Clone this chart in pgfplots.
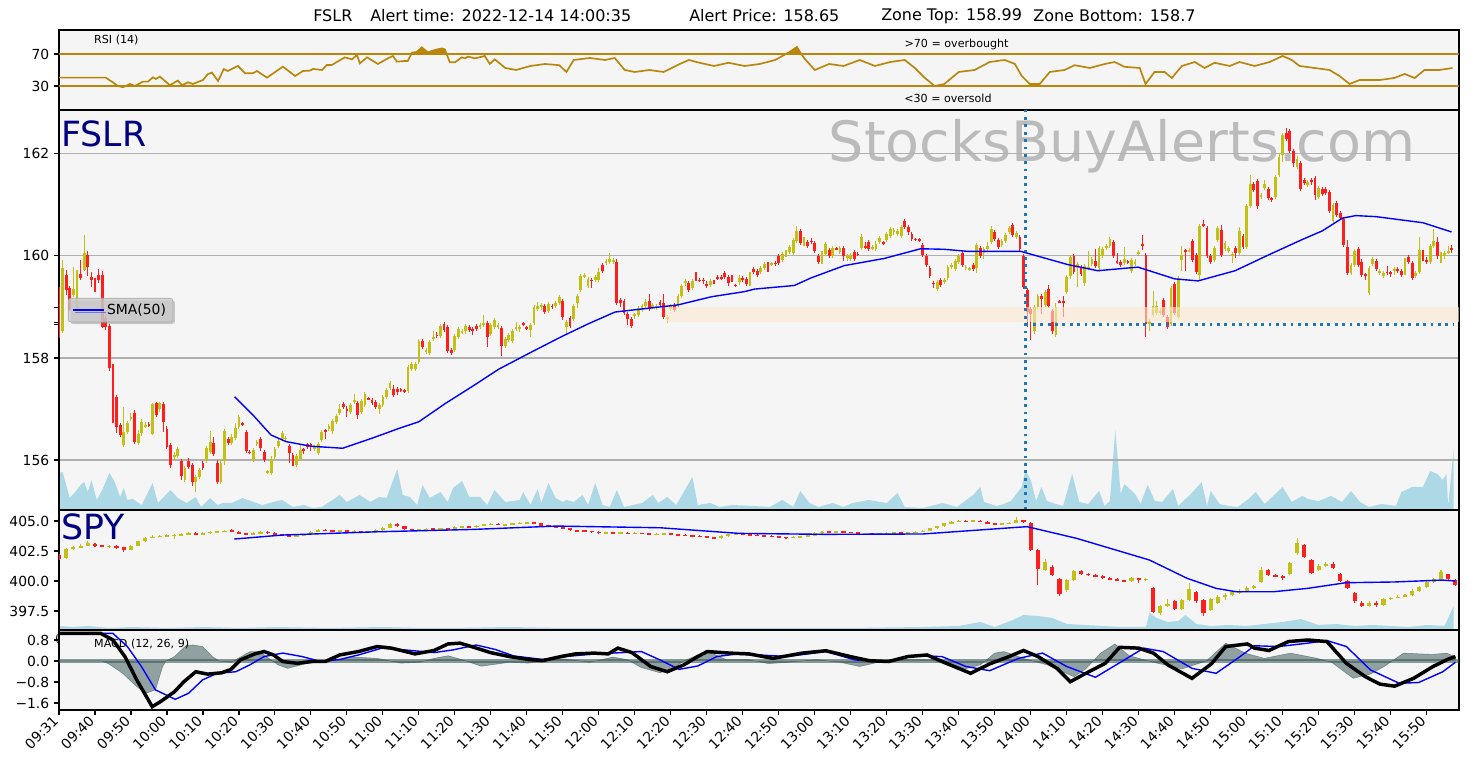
\documentclass[border=0pt]{standalone}
\usepackage{pgfplots}
\pgfplotsset{compat=1.18}
\usepackage{pgfplotstable}
\usepackage{fontspec}
\setmainfont{DejaVu Sans}
\usetikzlibrary{shadows}
\definecolor{bgc}{HTML}{F5F5F5}
\definecolor{upc}{HTML}{C3C014}
\definecolor{dnc}{HTML}{FF1E1E}
\definecolor{rsic}{HTML}{B8860B}
\definecolor{volc}{HTML}{ADD8E6}
\definecolor{zonec}{HTML}{FBE9D1}
\definecolor{dotc}{HTML}{1F77B4}
\definecolor{gridc}{HTML}{B0B0B0}
\definecolor{labc}{HTML}{000080}
\definecolor{wmc}{HTML}{BBBBBB}
\definecolor{histc}{HTML}{2F4F4F}

\pgfplotsset{
  upf/.style={restrict expr to domain={\thisrow{c}-\thisrow{o}}{0:100}},
  dnf/.style={restrict expr to domain={\thisrow{c}-\thisrow{o}}{-100:-0.0001}},
  smaleg/.style={legend image code/.code={\draw[##1] (0pt,0pt) -- (22pt,0pt);}},
  panel/.style={scale only axis, width=1008pt, anchor=south west, xmin=0, xmax=389,
    axis line style={black, line width=0.8pt},
    tick style={black, line width=0.8pt},
    major tick length=3.5pt, tick align=outside,
    xtick pos=bottom, ytick pos=left,
    tick label style={font=\fontsize{10}{12}\selectfont}},
  bgpanel/.style={scale only axis, width=1008pt, anchor=south west, xmin=0, xmax=389,
    axis line style={draw=none}, xtick=\empty, ytick=\empty,
    axis background/.style={fill=bgc}},
}

\newcommand{\candles}[4]{%
\addplot[forget plot, draw=none, mark=none, upf, error bars/.cd, y dir=both, y explicit, error mark=none, error bar style={draw=upc, solid, line width=#3}] table[x=t, y expr={(\thisrow{h}+\thisrow{l})/2}, y error expr={(\thisrow{h}-\thisrow{l})/2}] {#1};
\addplot[forget plot, draw=none, mark=none, dnf, error bars/.cd, y dir=both, y explicit, error mark=none, error bar style={draw=dnc, solid, line width=#3}] table[x=t, y expr={(\thisrow{h}+\thisrow{l})/2}, y error expr={(\thisrow{h}-\thisrow{l})/2}] {#1};
\addplot[forget plot, draw=none, mark=none, upf, error bars/.cd, y dir=both, y explicit, error mark=none, error bar style={draw=upc, solid, line width=#2}] table[x=t, y expr={(\thisrow{o}+\thisrow{c})/2}, y error expr={max(abs(\thisrow{c}-\thisrow{o})/2,#4)}] {#1};
\addplot[forget plot, draw=none, mark=none, dnf, error bars/.cd, y dir=both, y explicit, error mark=none, error bar style={draw=dnc, solid, line width=#2}] table[x=t, y expr={(\thisrow{o}+\thisrow{c})/2}, y error expr={max(abs(\thisrow{c}-\thisrow{o})/2,#4)}] {#1};
}

\pgfplotstableread{
t o h l c
0 159.33 159.40 158.40 158.48
1 158.52 159.92 158.48 159.76
2 159.63 159.72 159.23 159.33
3 159.37 159.42 158.92 158.97
4 159.24 159.79 159.20 159.35
5 159.35 159.72 158.94 159.61
6 159.65 159.92 159.52 159.56
7 159.73 160.41 159.70 160.05
8 160.02 160.09 159.60 159.79
9 159.58 159.69 159.40 159.53
10 159.50 159.56 159.30 159.49
11 159.63 159.74 159.46 159.53
12 159.63 159.70 158.58 158.61
13 158.78 158.82 158.55 158.61
14 158.63 158.66 157.75 157.80
15 157.83 157.88 156.72 157.27
16 157.24 157.28 156.52 156.65
17 156.68 156.72 156.45 156.49
18 156.29 157.04 156.26 156.55
19 156.55 156.76 156.50 156.72
20 156.80 156.92 156.76 156.85
21 156.93 156.98 156.32 156.36
22 156.33 156.58 156.30 156.52
23 156.52 156.80 156.48 156.74
24 156.66 156.74 156.62 156.69
25 156.71 156.75 156.64 156.68
26 156.52 157.12 156.48 157.09
27 157.11 157.14 156.84 156.88
28 156.99 157.14 156.95 157.11
29 157.10 157.13 156.54 156.74
30 156.61 156.66 156.22 156.26
31 156.29 156.34 155.85 155.90
32 156.05 156.15 156.00 156.10
33 156.08 156.25 156.04 156.21
34 155.99 156.03 155.60 155.69
35 155.61 155.88 155.57 155.84
36 155.99 156.03 155.82 155.86
37 155.90 155.94 155.50 155.57
38 155.57 155.70 155.38 155.67
39 155.67 155.84 155.63 155.80
40 155.95 155.99 155.80 155.84
41 155.99 156.27 155.95 156.23
42 156.16 156.56 156.12 156.35
43 156.33 156.45 156.07 156.11
44 155.95 156.00 155.53 155.57
45 155.57 156.00 155.53 155.95
46 155.98 156.60 155.90 156.57
47 156.42 156.46 156.29 156.33
48 156.33 156.50 156.29 156.46
49 156.43 156.72 156.39 156.62
50 156.65 156.88 156.61 156.84
51 156.71 156.75 156.66 156.70
52 156.55 156.59 156.14 156.18
53 156.16 156.19 156.12 156.15
54 156.00 156.23 155.96 156.19
55 156.31 156.40 156.27 156.36
56 156.42 156.46 156.18 156.23
57 156.15 156.19 155.97 156.01
58 155.76 155.81 155.72 155.77
59 155.74 156.08 155.70 156.02
60 156.05 156.25 156.01 156.21
61 156.28 156.42 156.24 156.38
62 156.42 156.56 156.38 156.52
63 156.41 156.48 156.37 156.44
64 156.28 156.32 155.95 156.13
65 156.10 156.14 155.88 155.89
66 155.90 156.12 155.86 156.08
67 156.03 156.32 155.99 156.20
68 156.20 156.23 156.12 156.19
69 156.31 156.34 156.22 156.26
70 156.31 156.34 156.18 156.26
71 156.21 156.30 156.17 156.26
72 156.13 156.35 156.09 156.31
73 156.39 156.58 156.35 156.54
74 156.58 156.61 156.42 156.54
75 156.61 156.71 156.57 156.67
76 156.56 156.81 156.52 156.77
77 156.75 156.90 156.71 156.86
78 156.93 157.10 156.89 157.00
79 157.10 157.14 156.99 157.03
80 157.01 157.05 156.85 156.97
81 156.95 157.11 156.91 157.07
82 157.14 157.30 157.10 157.18
83 157.11 157.15 156.80 156.88
84 156.95 157.20 156.91 157.16
85 157.07 157.33 157.03 157.29
86 157.21 157.24 157.17 157.20
87 157.17 157.21 157.07 157.11
88 157.14 157.18 156.99 157.03
89 157.01 157.11 156.90 157.07
90 157.07 157.28 157.03 157.24
91 157.24 157.41 157.20 157.37
92 157.41 157.55 157.37 157.51
93 157.39 157.47 157.24 157.28
94 157.39 157.43 157.28 157.34
95 157.38 157.41 157.33 157.37
96 157.37 157.40 157.32 157.35
97 157.36 157.86 157.32 157.82
98 157.78 157.93 157.74 157.89
99 157.79 157.92 157.75 157.89
100 157.93 158.38 157.88 158.34
101 158.34 158.38 158.18 158.22
102 158.11 158.20 158.07 158.16
103 158.10 158.35 158.06 158.31
104 158.37 158.52 158.33 158.42
105 158.45 158.50 158.40 158.44
106 158.44 158.67 158.40 158.63
107 158.66 158.70 158.50 158.54
108 158.61 158.65 158.10 158.14
109 158.16 158.20 158.05 158.09
110 158.16 158.47 158.12 158.43
111 158.41 158.61 158.37 158.57
112 158.51 158.56 158.47 158.52
113 158.52 158.67 158.48 158.63
114 158.60 158.64 158.51 158.55
115 158.57 158.61 158.46 158.54
116 158.63 158.67 158.52 158.56
117 158.60 158.68 158.56 158.64
118 158.65 158.84 158.61 158.68
119 158.68 158.72 158.21 158.42
120 158.47 158.69 158.43 158.65
121 158.61 158.79 158.57 158.75
122 158.60 158.69 158.56 158.65
123 158.58 158.62 158.04 158.23
124 158.23 158.41 158.19 158.37
125 158.35 158.49 158.31 158.45
126 158.34 158.57 158.30 158.53
127 158.57 158.71 158.53 158.60
128 158.57 158.65 158.50 158.61
129 158.67 158.70 158.63 158.66
130 158.59 158.62 158.55 158.58
131 158.55 158.69 158.42 158.65
132 158.69 159.03 158.65 158.99
133 158.97 159.10 158.93 159.02
134 158.99 159.07 158.95 159.03
135 159.02 159.06 158.87 158.91
136 158.93 159.10 158.89 159.06
137 159.02 159.05 158.96 159.01
138 159.01 159.11 158.97 159.07
139 159.07 159.23 159.03 159.19
140 159.12 159.16 158.74 158.80
141 158.61 158.74 158.48 158.70
142 158.78 158.82 158.59 158.63
143 158.76 159.06 158.72 159.02
144 159.08 159.26 158.98 159.22
145 159.33 159.65 159.29 159.61
146 159.60 159.67 159.56 159.63
147 159.42 159.59 159.38 159.55
148 159.53 159.56 159.38 159.52
149 159.53 159.62 159.49 159.58
150 159.52 159.76 159.48 159.69
151 159.82 159.86 159.67 159.71
152 159.87 159.94 159.83 159.90
153 159.89 160.05 159.85 159.94
154 159.89 159.96 159.85 159.92
155 159.89 159.93 159.04 159.08
156 159.14 159.18 159.00 159.08
157 159.12 159.16 158.85 158.89
158 158.86 158.90 158.65 158.76
159 158.76 158.80 158.59 158.63
160 158.84 158.88 158.76 158.85
161 158.84 159.01 158.80 158.97
162 158.95 159.06 158.91 159.02
163 159.02 159.15 158.98 159.10
164 159.12 159.25 158.92 158.96
165 159.01 159.08 158.97 159.04
166 158.99 159.06 158.95 159.02
167 159.09 159.13 159.00 159.04
168 159.07 159.25 158.76 158.80
169 158.76 158.84 158.69 158.80
170 158.97 159.06 158.93 159.02
171 159.04 159.08 158.91 158.95
172 159.02 159.25 158.98 159.21
173 159.21 159.45 159.17 159.41
174 159.46 159.55 159.42 159.51
175 159.46 159.50 159.29 159.33
176 159.38 159.55 159.34 159.51
177 159.65 159.69 159.51 159.55
178 159.53 159.56 159.49 159.52
179 159.53 159.56 159.45 159.52
180 159.46 159.50 159.38 159.42
181 159.44 159.55 159.40 159.51
182 159.50 159.53 159.46 159.49
183 159.58 159.62 159.52 159.56
184 159.58 159.62 159.52 159.56
185 159.66 159.70 159.54 159.58
186 159.59 159.63 159.42 159.46
187 159.58 159.62 159.49 159.53
188 159.43 159.46 159.39 159.42
189 159.48 159.62 159.44 159.56
190 159.56 159.60 159.49 159.53
191 159.54 159.58 159.42 159.46
192 159.46 159.69 159.42 159.65
193 159.75 159.79 159.65 159.69
194 159.71 159.75 159.59 159.63
195 159.69 159.80 159.65 159.76
196 159.76 159.88 159.72 159.84
197 159.84 159.88 159.68 159.72
198 159.84 159.89 159.80 159.85
199 159.87 159.91 159.80 159.84
200 159.99 160.03 159.83 159.87
201 159.92 160.07 159.88 160.03
202 160.02 160.12 159.98 160.08
203 160.08 160.22 160.04 160.18
204 160.05 160.35 160.01 160.31
205 160.30 160.58 160.26 160.48
206 160.49 160.53 160.21 160.25
207 160.24 160.37 160.20 160.33
208 160.28 160.32 160.16 160.20
209 160.29 160.35 160.24 160.28
210 160.26 160.30 160.06 160.10
211 160.00 160.04 159.85 159.89
212 159.88 160.09 159.84 160.05
213 160.04 160.28 160.00 160.24
214 160.12 160.16 159.96 160.00
215 160.00 160.20 159.96 160.16
216 160.15 160.18 160.11 160.14
217 160.07 160.20 160.03 160.16
218 160.15 160.19 159.91 160.00
219 159.95 160.04 159.91 160.00
220 159.94 160.06 159.90 160.02
221 160.07 160.11 159.90 159.94
222 160.04 160.07 160.00 160.03
223 160.15 160.42 160.11 160.38
224 160.18 160.28 160.14 160.17
225 160.27 160.31 160.09 160.13
226 160.15 160.22 160.11 160.18
227 160.13 160.30 160.09 160.23
228 160.28 160.39 160.24 160.35
229 160.26 160.29 160.22 160.25
230 160.31 160.47 160.27 160.43
231 160.39 160.57 160.35 160.53
232 160.46 160.55 160.42 160.51
233 160.43 160.52 160.39 160.48
234 160.39 160.60 160.35 160.56
235 160.69 160.73 160.52 160.56
236 160.56 160.60 160.42 160.46
237 160.43 160.47 160.29 160.33
238 160.33 160.36 160.29 160.32
239 160.32 160.35 160.28 160.31
240 160.22 160.26 159.97 160.01
241 159.99 160.03 159.78 159.82
242 159.76 159.80 159.57 159.61
243 159.47 159.50 159.37 159.46
244 159.35 159.52 159.32 159.48
245 159.52 159.56 159.39 159.43
246 159.50 159.57 159.46 159.53
247 159.57 159.82 159.53 159.78
248 159.79 159.86 159.75 159.82
249 159.74 159.94 159.70 159.90
250 159.89 160.04 159.85 160.00
251 160.05 160.09 159.78 159.82
252 159.77 159.83 159.73 159.78
253 159.74 159.78 159.70 159.75
254 159.82 159.86 159.70 159.74
255 159.76 160.26 159.67 160.22
256 160.15 160.19 159.96 160.00
257 160.05 160.17 159.93 160.13
258 160.13 160.28 160.09 160.19
259 160.28 160.58 160.24 160.52
260 160.46 160.50 160.29 160.33
261 160.31 160.35 160.14 160.18
262 160.22 160.34 160.18 160.30
263 160.30 160.45 160.26 160.41
264 160.46 160.58 160.42 160.54
265 160.61 160.64 160.37 160.41
266 160.38 160.48 160.34 160.44
267 160.38 160.42 160.09 160.13
268 159.99 160.03 159.36 159.40
269 159.33 159.37 158.61 158.91
270 158.95 158.99 158.35 158.86
271 158.52 159.03 158.48 158.99
272 158.99 159.26 158.95 159.22
273 159.22 159.26 158.86 159.15
274 159.04 159.34 159.00 159.30
275 159.35 159.43 158.97 159.01
276 158.92 158.96 158.48 158.52
277 158.45 159.08 158.41 158.99
278 159.11 159.14 159.07 159.10
279 159.11 159.22 158.81 159.10
280 159.30 159.62 159.26 159.58
281 159.61 160.01 159.55 159.97
282 159.99 160.03 159.65 159.69
283 159.77 159.88 159.40 159.84
284 159.78 159.82 159.61 159.65
285 159.46 159.84 159.42 159.80
286 159.76 160.10 159.72 159.77
287 159.84 159.97 159.80 159.93
288 159.90 160.13 159.76 159.80
289 159.76 160.19 159.69 160.15
290 160.00 160.17 159.96 160.13
291 160.15 160.24 160.11 160.20
292 160.20 160.37 160.16 160.33
293 160.27 160.31 159.96 160.00
294 159.89 160.05 159.84 159.88
295 159.89 159.93 159.78 159.82
296 159.86 160.18 159.82 159.95
297 159.89 159.92 159.85 159.88
298 159.71 159.96 159.67 159.92
299 159.84 159.93 159.80 159.89
300 160.04 160.11 160.00 160.07
301 160.22 160.41 160.12 160.21
302 160.02 160.06 158.42 158.67
303 158.67 158.77 158.52 158.73
304 158.84 159.32 158.80 159.01
305 158.88 159.11 158.84 159.02
306 158.89 158.97 158.85 158.93
307 159.14 159.18 158.80 158.84
308 158.80 158.84 158.56 158.60
309 158.67 159.41 158.63 159.37
310 159.45 159.49 158.85 158.89
311 158.80 159.60 158.76 159.56
312 159.92 160.20 159.71 160.02
313 160.11 160.14 159.71 160.10
314 160.10 160.15 160.07 160.11
315 160.29 160.33 159.89 159.93
316 160.02 160.06 159.65 159.69
317 159.63 160.63 159.50 160.59
318 160.61 160.71 160.57 160.60
319 160.54 160.58 159.96 160.00
320 159.99 160.03 159.85 159.89
321 159.93 160.19 159.89 160.15
322 160.31 160.58 160.27 160.54
323 160.51 160.61 159.98 160.02
324 160.13 160.29 160.09 160.25
325 160.10 160.20 160.06 160.16
326 160.02 160.07 159.86 160.03
327 160.15 160.19 159.95 160.05
328 160.05 160.56 160.01 160.48
329 160.39 160.43 160.14 160.18
330 160.18 161.02 160.14 160.98
331 160.98 161.59 160.94 161.41
332 161.41 161.45 161.25 161.29
333 161.46 161.50 160.93 160.97
334 161.16 161.24 161.12 161.20
335 161.33 161.49 161.29 161.41
336 161.31 161.35 161.09 161.13
337 161.12 161.15 161.05 161.11
338 161.15 161.58 161.11 161.54
339 161.59 162.01 161.55 161.93
340 161.98 162.41 161.85 162.37
341 162.41 162.50 162.25 162.29
342 162.44 162.48 162.01 162.05
343 162.05 162.09 161.74 161.83
344 161.74 161.95 161.70 161.91
345 161.82 161.86 161.27 161.31
346 161.49 161.53 161.39 161.43
347 161.39 161.48 161.35 161.44
348 161.49 161.53 161.40 161.44
349 161.52 161.56 161.10 161.20
350 161.15 161.37 161.11 161.33
351 161.31 161.35 161.18 161.22
352 161.31 161.35 161.20 161.24
353 161.26 161.30 160.85 160.89
354 160.69 161.04 160.65 161.00
355 161.03 161.07 160.76 160.80
356 160.84 160.88 160.70 160.74
357 160.72 160.76 160.18 160.22
358 160.18 160.31 159.63 159.67
359 159.67 159.86 159.63 159.82
360 159.82 160.14 159.78 160.10
361 160.14 160.18 159.78 159.82
362 159.89 159.93 159.59 159.63
363 159.63 159.66 159.52 159.62
364 159.28 159.80 159.24 159.76
365 159.84 159.97 159.80 159.93
366 159.90 159.94 159.71 159.75
367 159.67 159.75 159.63 159.71
368 159.60 159.71 159.56 159.67
369 159.69 159.80 159.63 159.67
370 159.68 159.71 159.59 159.67
371 159.72 159.79 159.63 159.73
372 159.74 159.78 159.67 159.71
373 159.71 159.75 159.59 159.63
374 159.67 159.96 159.63 159.92
375 159.97 160.02 159.85 159.89
376 159.86 159.90 159.52 159.56
377 159.61 159.71 159.57 159.67
378 159.69 160.38 159.65 160.12
379 160.08 160.12 159.91 159.95
380 159.93 159.97 159.85 159.89
381 159.89 160.24 159.85 160.20
382 160.20 160.52 160.16 160.29
383 160.28 160.38 159.95 159.99
384 160.02 160.07 159.86 160.03
385 159.99 160.09 159.95 160.05
386 160.07 160.20 160.03 160.10
387 160.15 160.22 160.05 160.14
}\fslr

\pgfplotstableread{
t v
0 37
1 38
3 12
4.5 18
6 25
7 28
8 18
9 30
10.5 10
12 20
14 37
15.5 28
17 13
18 22
19 10
20.5 11
23 5
26 27
27.5 7
31 20
33 12
35.5 7
38 13
39.5 3
42 12
44 5
45.5 7
48 7
51 12
54 8
56.5 5
59.5 8
62 10
65 3
68 5
70.5 2
73 3
76 10
78 15
80 8
83.5 15
86.5 8
89 13
91 12
94 41
95.5 15
97.5 13
99.5 5
101 25
103 12
106 18
108 8
109.5 22
112 29
114 13
117 13
119 5
121 20
124 8
128 10
129 18
131 5
133 21
134 7
136 27
138 12
140 8
141 10
143 8
145.5 15
147 5
149 27
151 5
153 3
155 20
157 3
159.5 5
162 7
165 15
166.5 7
169 13
171.5 5
176 33
177.5 5
181 7
183.5 3
187 5
193 4
197.5 3
201 10
204 3
206 19
208.5 7
211 3
215 7
218 3
220.5 7
225 10
230 7
233 17
235 3
240 2
245.5 7
249.5 3
254 15
256 23
257 8
260.5 4
262.5 6
264.5 9
267.5 23
268.5 40
270 30
271.5 9
273 23
274.5 9
277 6
279 4
281.5 36
283.5 8
286 6
289 19
290.5 4
292 9
293.5 80
295 16
296 26
299 16
300.5 6
302.5 25
304.5 9
306.5 8
309.5 21
311 4
313 11
314.5 16
317.5 28
319 4
320 19
322.5 6
325 4
327.5 3
330.5 11
332.5 18
335 6
340 23
342.5 8
345.5 14
347 11
350 9
353.5 14
356.5 8
359 19
361.5 8
364 3
367.5 6
371.5 4
373 18
376 23
379 23
381 39
383 36
384.5 30
385.5 36
386 4
387.5 61
}\fslrvol

\pgfplotstableread{
t o h l c
0 402.20 402.25 401.75 401.85
2 401.90 402.75 401.85 402.65
4 402.65 402.90 402.60 402.80
6 402.80 403.05 402.75 402.95
8 402.95 403.30 402.90 403.15
10 403.10 403.15 402.85 402.95
12 402.95 403.00 402.80 402.90
14 402.85 403.00 402.75 402.95
16 402.95 403.00 402.65 402.75
18 402.80 402.85 402.45 402.55
20 402.60 403.00 402.55 402.95
22 402.95 403.35 402.90 403.30
24 403.30 403.65 403.25 403.60
26 403.60 403.80 403.55 403.70
28 403.70 403.85 403.65 403.75
30 403.75 403.90 403.70 403.80
32 403.80 403.95 403.50 403.85
34 403.85 404.00 403.80 403.90
36 403.90 404.05 403.85 403.95
38 404.00 404.05 403.80 403.85
40 403.85 404.05 403.80 404.00
42 404.00 404.15 403.95 404.10
44 404.10 404.20 404.05 404.12
46 404.12 404.25 404.05 404.18
48 404.25 404.30 404.05 404.10
50 404.10 404.15 403.90 403.95
52 403.95 404.00 403.85 403.90
54 403.90 404.05 403.85 403.98
56 403.98 404.15 403.95 404.10
58 404.10 404.15 403.95 404.00
60 404.00 404.05 403.85 403.90
62 403.90 403.95 403.75 403.80
64 403.80 403.85 403.70 403.75
66 403.75 403.90 403.70 403.82
68 403.82 403.95 403.78 403.88
70 403.88 404.15 403.85 404.10
72 404.10 404.35 404.05 404.25
74 404.25 404.30 404.15 404.20
76 404.20 404.25 404.10 404.15
78 404.15 404.25 404.10 404.20
80 404.20 404.25 404.10 404.15
82 404.15 404.22 404.10 404.16
84 404.16 404.20 404.05 404.10
86 404.10 404.18 404.02 404.12
88 404.12 404.30 404.08 404.25
90 404.25 404.50 404.20 404.45
92 404.45 404.85 404.40 404.75
94 404.75 404.80 404.50 404.55
96 404.55 404.60 404.25 404.30
98 404.30 404.35 404.15 404.22
100 404.22 404.35 404.18 404.30
102 404.30 404.40 404.25 404.35
104 404.35 404.40 404.28 404.33
106 404.33 404.45 404.30 404.40
108 404.40 404.45 404.30 404.35
110 404.35 404.55 404.30 404.50
112 404.50 404.62 404.45 404.55
114 404.55 404.60 404.45 404.50
116 404.50 404.68 404.45 404.62
118 404.62 404.78 404.58 404.72
120 404.72 404.82 404.68 404.76
122 404.76 404.80 404.65 404.70
124 404.70 404.78 404.65 404.72
126 404.72 404.84 404.68 404.78
128 404.78 404.88 404.74 404.82
130 404.82 404.92 404.78 404.86
132 404.86 404.90 404.74 404.80
134 404.80 404.84 404.58 404.62
136 404.62 404.66 404.50 404.56
138 404.56 404.60 404.45 404.50
140 404.50 404.55 404.35 404.40
142 404.40 404.45 404.18 404.22
144 404.22 404.28 404.15 404.20
146 404.20 404.25 404.10 404.16
148 404.16 404.20 404.05 404.10
150 404.10 404.14 403.95 404.00
152 404.00 404.10 403.95 404.05
154 404.05 404.10 403.95 404.00
156 404.00 404.08 403.95 404.02
158 404.02 404.06 403.90 403.95
160 403.95 404.05 403.90 404.00
162 404.00 404.04 403.90 403.95
164 403.95 404.00 403.85 403.90
166 403.90 403.98 403.85 403.92
168 403.92 404.02 403.88 403.96
170 403.96 404.00 403.85 403.90
172 403.90 403.94 403.80 403.85
174 403.85 403.90 403.75 403.80
176 403.80 403.85 403.70 403.76
178 403.76 403.80 403.65 403.70
180 403.70 403.75 403.58 403.65
182 403.65 403.70 403.50 403.55
184 403.55 403.80 403.50 403.75
186 403.75 403.96 403.70 403.90
188 403.90 404.00 403.85 403.95
190 403.95 404.00 403.85 403.90
192 403.90 403.95 403.80 403.85
194 403.85 403.90 403.75 403.80
196 403.80 403.85 403.70 403.75
198 403.75 403.80 403.65 403.70
200 403.70 403.75 403.60 403.65
202 403.65 403.70 403.55 403.62
204 403.62 403.72 403.58 403.66
206 403.66 403.78 403.62 403.72
208 403.72 403.84 403.68 403.78
210 403.78 404.05 403.74 404.00
212 404.00 404.16 403.96 404.10
214 404.10 404.15 404.02 404.08
216 404.08 404.20 404.04 404.15
218 404.15 404.18 404.04 404.08
220 404.08 404.12 403.98 404.04
222 404.04 404.08 403.90 403.95
224 403.95 404.02 403.90 403.96
226 403.96 404.00 403.85 403.90
228 403.90 404.00 403.86 403.95
230 403.95 404.05 403.90 404.00
232 404.00 404.10 403.95 404.05
234 404.05 404.08 403.95 404.00
236 404.00 404.10 403.96 404.05
238 404.05 404.15 404.00 404.10
240 404.10 404.26 404.05 404.20
242 404.20 404.46 404.15 404.40
244 404.40 404.62 404.35 404.55
246 404.55 404.86 404.50 404.80
248 404.80 405.02 404.75 404.95
250 404.95 405.06 404.90 405.00
252 405.00 405.05 404.92 404.98
254 404.98 405.10 404.94 405.04
256 405.04 405.08 404.90 404.95
258 404.95 405.00 404.75 404.80
260 404.80 404.85 404.70 404.75
262 404.75 404.82 404.70 404.76
264 404.76 404.92 404.72 404.85
266 404.85 405.30 404.80 405.05
268 405.05 405.10 404.85 404.90
270 404.85 404.90 402.50 402.60
272 402.60 402.65 399.70 401.00
274 400.90 401.80 400.80 401.60
276 401.20 401.30 400.40 400.50
278 400.20 400.25 398.75 398.90
280 399.25 400.15 399.10 400.05
282 400.10 400.95 400.00 400.85
284 400.85 400.95 400.50 400.60
286 400.60 400.68 400.42 400.50
288 400.50 400.58 400.35 400.42
290 400.42 400.50 400.15 400.22
292 400.22 400.30 400.08 400.15
294 400.15 400.22 399.98 400.05
296 400.05 400.12 399.92 400.00
298 400.00 400.30 399.95 400.22
300 400.22 400.28 399.80 400.10
302 400.10 400.26 400.00 400.18
304 399.45 399.50 397.30 397.40
306 397.35 398.00 397.20 397.90
308 397.90 398.50 397.80 398.10
310 398.30 398.40 397.60 397.70
312 397.70 398.50 397.60 398.40
314 398.40 399.80 398.30 399.30
316 399.05 399.15 398.20 398.30
318 398.40 398.50 397.10 397.30
320 397.60 398.60 397.50 398.50
322 398.20 398.80 398.10 398.70
324 398.70 399.00 398.40 398.85
326 398.85 399.15 398.75 399.05
328 399.05 399.30 398.95 399.15
330 399.15 399.55 399.05 399.45
332 399.45 399.70 399.30 399.55
334 399.90 401.20 399.80 400.90
336 400.90 401.00 400.40 400.50
338 400.50 400.60 400.30 400.40
340 400.40 400.50 400.10 400.30
342 400.60 401.60 400.50 401.50
344 402.30 403.55 402.20 403.20
346 403.00 403.10 401.90 402.00
348 401.75 401.85 400.60 400.70
350 400.90 401.40 400.80 401.25
352 401.25 401.60 401.15 401.45
354 401.45 401.55 401.00 401.10
356 400.60 400.70 399.90 400.00
358 400.00 400.05 399.30 399.40
360 399.00 399.10 398.20 398.30
362 398.20 398.30 397.80 397.90
364 397.90 398.30 397.80 398.20
366 398.20 398.30 397.85 398.00
368 398.00 398.60 397.95 398.50
370 398.50 398.70 398.45 398.60
372 398.60 398.80 398.55 398.70
374 398.70 398.90 398.65 398.80
376 398.80 399.30 398.75 399.20
378 399.20 399.60 399.10 399.50
380 399.50 400.00 399.45 399.90
382 399.90 400.25 399.80 400.15
384 400.20 400.95 400.15 400.75
386 400.55 400.60 400.10 400.20
388 400.10 400.15 399.55 399.65
}\spy

\pgfplotstableread{
t v
0 4
4 3
8 4
14 2
20 3
30 2
40 3
50 2
60 3
75 2
90 3
100 2
110 2
125 3
140 2
160 2
180 2
200 2
220 2
240 3
250 4
256 8
260 3
265 10
268 15
272 14
276 12
280 6
285 5
290 4
295 3
302 3
303 17
305 12
308 8
311 9
313 15
316 6
320 4
325 5
330 4
335 6
340 8
345 11
350 5
355 6
360 4
365 5
370 4
375 3
380 5
385 4
387.5 24
}\spyvol

\pgfplotstableread{
t v
0 40.4
13 40.4
14.7 35.4
16.4 30
17.8 28.4
19.7 32.5
21.1 30
23.3 35.4
24.7 35.4
26.1 40.8
26.9 38.75
28 41.7
30.8 31
33 36.7
34.2 31
35.8 34.6
37.2 32.5
40 37.5
41.4 45
42.5 46.7
44.2 36.25
45.8 51.25
46.9 48.75
49.7 55
51.7 46
53.9 46
55 48.75
57.8 40.4
62.2 54.2
65.6 42.5
67.8 48.75
69.7 49.2
70.6 51.25
73.1 50
74.4 56.25
75.8 56.25
79.4 65.8
81.4 63.3
82.8 68.75
83.6 58.3
85.6 65.8
88.6 57.5
91.4 64.6
92.8 67.5
93.9 60.4
96.1 61.25
96.9 61.25
98.1 71.7
99.4 72.5
100.8 78.3
102.5 72
104.4 75
106.4 77
107.2 75.8
108.6 59.6
110 59.6
111.9 65.8
112.8 64.6
113.6 66.7
115.6 64.6
118.3 67.5
119.7 57.5
121.1 63.3
124 52.5
127 50
131 55
135 57.5
139 56
141 47.5
143 62.5
147.5 65
151.7 62.5
154.4 65
157.2 50
160 47.5
164 50
168 47.5
172.5 57.5
175 62.5
178 59
182 55
186 59
190.5 55
194.7 57.5
199 62.5
203 72.5
205 78.75
207 65
210 50
214 57.5
218 55
222.5 62.5
226.7 55
231 60
235 62.5
237.8 52.5
240.6 40
243.3 30
246 32.5
250 47.5
254.4 50
258.6 60
262.8 62.5
265.6 57.5
267.5 42.5
269.7 32.5
272.5 32.5
275.3 47.5
279.4 50
282.2 56
286.4 52.5
290.6 57.5
293.3 60
296 54
300.3 52.5
301.9 32.5
304.4 47.5
307.2 47.5
309.2 40
312 55
315.6 60
318.3 52.5
321.1 59
325.3 55
328 60
332.2 55
336.4 60
340 67.5
342.5 62.5
344.7 55
348.9 52.5
353 50
355.8 42.5
358.6 32.5
361.4 37.5
367 37.5
371 40
373.9 45
376.7 40
379.4 50
383.6 50
387.2 52.5
}\rsi

\begin{document}
\begin{tikzpicture}[x=1pt,y=1pt]
\useasboundingbox (0,0) rectangle (1061.28,552.96);

% title
\node[anchor=west, inner sep=0pt, font=\fontsize{11.5}{14}\selectfont] at (225.4,541.4) {FSLR};
\node[anchor=west, inner sep=0pt, font=\fontsize{11.5}{14}\selectfont] at (266.4,541.4) {Alert time: 2022-12-14 14:00:35};
\node[anchor=west, inner sep=0pt, font=\fontsize{11.5}{14}\selectfont] at (496.1,541.4) {Alert Price: 158.65};
\node[anchor=west, inner sep=0pt, font=\fontsize{11.5}{14}\selectfont] at (634.3,541.4) {Zone Top: 158.99};
\node[anchor=west, inner sep=0pt, font=\fontsize{11.5}{14}\selectfont] at (743.8,541.4) {Zone Bottom: 158.7};

% RSI panel
\begin{axis}[panel, at={(42.48pt,473.76pt)}, height=57.6pt, ymin=0, ymax=100,
  ytick={30,70}, yticklabels={30,70}, xtick=\empty, axis background/.style={fill=bgc}]
\addplot[rsic, line width=1.5pt] coordinates {(0,70) (389,70)};
\addplot[rsic, line width=1.5pt] coordinates {(0,30) (389,30)};
\addplot[fill=rsic, draw=none] coordinates {(97.7,70) (98.1,71.7) (99.4,72.5) (100.8,78.3) (102.5,72) (104.4,75) (106.4,77) (107.2,75.8) (107.6,70)};
\addplot[fill=rsic, draw=none] coordinates {(202.3,70) (203,72.5) (205,78.75) (206.2,70)};
\addplot[rsic, line width=1.2pt] table[x=t, y=v] {\rsi};
\node[anchor=west, inner sep=0pt, font=\fontsize{8}{9}\selectfont] at (axis cs:9.7,87.5) {RSI (14)};
\node[inner sep=0pt, font=\fontsize{8}{9}\selectfont] at (axis cs:249.4,82.5) {>70 = overbought};
\node[inner sep=0pt, font=\fontsize{8}{9}\selectfont] at (axis cs:247,15) {<30 = oversold};
\end{axis}

% FSLR background + volume
\begin{axis}[bgpanel, at={(42.48pt,185.76pt)}, height=288pt, ymin=0, ymax=400]
\addplot[fill=volc, draw=none] table[x=t, y=v] {\fslrvol} \closedcycle;
\node[anchor=base, inner sep=0pt, text=wmc, font=\fontsize{40}{44}\selectfont] at (axis cs:295.4,348) {StocksBuyAlerts.com};
\end{axis}

% FSLR main
\begin{axis}[panel, at={(42.48pt,185.76pt)}, height=288pt, ymin=155.02, ymax=162.86,
  ytick={156,158,160,162}, yticklabels={156,158,160,162}, xtick=\empty,
  ymajorgrids, grid style={gridc, line width=0.8pt},
  extra y ticks={158.65,158.7,158.99}, extra y tick labels={}, extra y tick style={grid=none},
  legend style={at={(0.0064,0.53)}, anchor=north west, fill=gray!40, fill opacity=0.8, text opacity=1,
    draw=gray!70, rounded corners=2pt, font=\fontsize{10}{12}\selectfont,
    drop shadow={opacity=0.4, shadow xshift=1.5pt, shadow yshift=-1.5pt}},
  legend cell align=left]
\candles{\fslr}{2pt}{0.75pt}{0.012}
\addplot[blue, line width=1pt, smaleg] coordinates {
(48.8,157.24) (54.3,156.85) (58.9,156.49) (63.1,156.36) (70,156.27) (78.8,156.23) (87.1,156.43) (94.5,156.62) (100,156.75) (107.4,157.11) (114.8,157.44) (122.2,157.78) (131.4,158.12) (139.7,158.42) (147.1,158.67) (154.5,158.90) (172,159.04) (181.3,159.20) (190.5,159.30) (193.3,159.35) (204.3,159.42) (209,159.57) (218.2,159.81) (229.3,159.95) (239.4,160.14) (245.9,160.13) (252.4,160.09) (267.2,160.09) (280.3,159.83) (288.6,159.71) (299.8,159.78) (310,159.55) (316.5,159.51) (326.8,159.71) (336.1,160.02) (345.4,160.32) (351,160.49) (356.6,160.74) (360.3,160.79) (365.9,160.77) (379,160.65) (386.9,160.47)};
\addlegendentry{SMA(50)}
\addplot[forget plot, fill=zonec, fill opacity=0.6, draw=none] coordinates {(168.6,158.7) (389,158.7) (389,158.99) (168.6,158.99)};
\addplot[forget plot, dotc, line width=2pt, dash pattern=on 2pt off 3.3pt] coordinates {(268.6,155.02) (268.6,162.86)};
\addplot[forget plot, dotc, line width=2pt, dash pattern=on 2pt off 3.3pt] coordinates {(268.6,158.65) (387.5,158.65)};
\node[anchor=base west, inner sep=0pt, text=labc, font=\fontsize{25}{30}\selectfont] at (axis cs:0.6,162.14) {FSLR};
\end{axis}

% SPY background + volume
\begin{axis}[bgpanel, at={(42.48pt,99.36pt)}, height=86.4pt, ymin=0, ymax=120]
\addplot[fill=volc, draw=none] table[x=t, y=v] {\spyvol} \closedcycle;
\end{axis}

% SPY main
\begin{axis}[panel, at={(42.48pt,99.36pt)}, height=86.4pt, ymin=395.92, ymax=405.92,
  ytick={397.5,400,402.5,405}, yticklabels={397.5,400.0,402.5,405.0},
  xtick={0,10,...,380}, xticklabel={}, xticklabel style={inner sep=0pt, outer sep=0pt}]
\candles{\spy}{3pt}{0.75pt}{0.05}
\addplot[blue, line width=1pt] coordinates {
(48.7,403.5) (62,403.83) (88,404.1) (115,404.3) (138.2,404.58) (167,404.44) (189,403.97) (213,403.89) (240,403.92) (266,404.47) (269,404.53) (282.7,403.56) (303,401.75) (313.5,400.22) (321.5,399.39) (327,399.11) (337.5,399.11) (347,399.39) (357.6,399.86) (371,399.92) (384.3,400.08) (388,400.0)};
\node[anchor=base west, inner sep=0pt, text=labc, font=\fontsize{25}{30}\selectfont] at (axis cs:0.6,403.42) {SPY};
\end{axis}

% MACD
\begin{axis}[panel, at={(42.48pt,41.76pt)}, height=57.6pt, ymin=-1.867, ymax=1.181,
  ytick={-1.6,-0.8,0,0.8}, yticklabels={−1.6,−0.8,0.0,0.8},
  xtick={0,10,...,380},
  xticklabels={09:31,09:40,09:50,10:00,10:10,10:20,10:30,10:40,10:50,11:00,11:10,11:20,11:30,11:40,11:50,12:00,12:10,12:20,12:30,12:40,12:50,13:00,13:10,13:20,13:30,13:40,13:50,14:00,14:10,14:20,14:30,14:40,14:50,15:00,15:10,15:20,15:30,15:40,15:50},
  xticklabel style={rotate=45, anchor=east, font=\fontsize{10}{12}\selectfont},
  axis background/.style={fill=bgc}]
\addplot[fill=histc, fill opacity=0.5, draw=histc, draw opacity=0.5] coordinates {
(0,0) (11.8,0) (13.7,-0.1) (17.7,-0.47) (21.6,-0.98) (24.2,-1.23) (26.8,-1.10) (28.8,-0.21) (29.7,0) (32.1,0.17) (35.4,0.6) (37.3,0.61) (39.9,0.55) (42.6,0.17) (44.5,0) (47.8,-0.05) (50.4,0.15) (53.1,0.36) (55.7,0.36) (58.3,0.1) (60.9,-0.15) (63.5,-0.28) (68.8,-0.1) (75.3,0) (81.9,0.15) (88.4,0.1) (95,-0.08) (100.2,-0.05) (104.2,0.1) (108.1,0.2) (112,0.05) (117.3,-0.2) (125.1,-0.05) (130.4,-0.08) (134.3,0) (138.2,0.1) (142.2,0.05) (147.4,-0.05) (153.9,0.15) (157.9,0.05) (161.8,-0.25) (167,-0.45) (170.9,-0.25) (173.6,0) (177.5,0.23) (181.4,0.3) (185.4,0.05) (191.7,0.05) (197.1,-0.1) (202.4,-0.05) (210.5,0.05) (217.1,-0.05) (222.5,-0.21) (229.2,0) (234.5,0.05) (242.6,0.05) (250.6,-0.34) (256,-0.15) (260,0.3) (262.6,0.36) (268,0.1) (274.6,-0.15) (282,-0.6) (285.3,-0.3) (289.4,0.3) (293.4,0.65) (297.4,0.2) (304.1,-0.05) (312.1,-0.3) (318.8,0) (324.2,0.68) (329.6,0.3) (334.9,0.1) (342.2,0.3) (349.6,0.1) (353.6,-0.05) (359.6,-0.66) (364.4,-0.5) (368.3,-0.2) (373.6,0.3) (381.6,0.25) (385.6,0.3) (388,0.15) (388,0)};
\addplot[histc, opacity=0.55, line width=2.5pt] coordinates {(0,0) (389,0)};
\node[anchor=west, inner sep=0pt, font=\fontsize{8}{9}\selectfont] at (axis cs:9.7,0.65) {MACD (12, 26, 9)};
\addplot[blue, line width=1pt] coordinates {
(0,1.05) (15,1.05) (19,0.55) (22.9,-0.21) (26.8,-1.10) (32.3,-1.46) (36,-1.23) (39.9,-0.72) (43.9,-0.47) (49.1,-0.41) (53,-0.15) (57,0.17) (62.2,0.30) (67.5,0.17) (72.7,-0.02) (78,0.06) (83.2,0.23) (89.7,0.49) (96.3,0.42) (104.2,0.32) (109.4,0.42) (115.9,0.61) (121.2,0.44) (126.4,0.19) (134.3,0.06) (140.9,0.17) (148.7,0.27) (156.6,0.32) (161.8,0.36) (167,0.04) (172.3,-0.32) (177.5,-0.19) (182.8,0.17) (188,0.26) (194.4,0.23) (202.4,0.17) (213.1,0.36) (221.2,0.04) (229.2,-0.02) (237.2,0.19) (245.3,0.17) (252,-0.21) (258.6,-0.37) (266.6,0.10) (273.3,0.30) (280,-0.21) (288,-0.62) (296,0.04) (301.4,0.49) (306.8,0.36) (314.8,-0.28) (321.5,-0.47) (328.2,0.17) (332.2,0.58) (338.9,0.55) (347,0.68) (352.3,0.78) (357.7,0.55) (364.4,-0.34) (372.4,-0.85) (377.8,-0.82) (384.5,-0.41) (388,-0.05)};
\addplot[black, line width=2.5pt] coordinates {
(0,1.05) (11.6,1.05) (15,0.80) (18.3,0.17) (21.6,-0.72) (25.9,-1.74) (28.2,-1.55) (32.1,-1.17) (34.7,-0.79) (38,-0.41) (41.3,-0.50) (45.2,-0.45) (47.8,-0.32) (50.4,0.04) (54.4,0.27) (57,0.36) (59.6,0.23) (62.2,-0.02) (66.2,-0.09) (70.1,-0.02) (74,-0.02) (78,0.23) (83.2,0.36) (88.4,0.55) (92.4,0.49) (98.9,0.27) (104.2,0.40) (108.1,0.65) (111.4,0.68) (114.6,0.55) (119.9,0.32) (125.1,0.17) (130.4,0.06) (134.3,0.01) (139.5,0.17) (143.5,0.27) (148.7,0.30) (152.6,0.27) (155.3,0.49) (159.2,0.32) (164.4,-0.21) (169,-0.41) (173.6,-0.15) (177.5,0.17) (180.1,0.36) (186.4,0.30) (191.7,0.27) (198.4,0.10) (206.5,0.30) (213.1,0.39) (219.8,0.17) (225.2,0.01) (230.5,-0.02) (235.9,0.17) (241.2,0.23) (246.6,-0.09) (253.3,-0.47) (258.6,-0.11) (264,0.17) (268,0.40) (272,0.17) (277.3,-0.28) (281,-0.79) (285.3,-0.47) (290.7,-0.09) (294.7,0.52) (300,0.49) (304.1,0.30) (308.1,-0.15) (314.8,-0.66) (320.2,-0.11) (324.2,0.55) (330.2,0.65) (332.2,0.49) (336.2,0.40) (341.6,0.74) (347,0.80) (352.3,0.74) (357.7,-0.09) (363,-0.60) (367,-0.88) (371.1,-0.96) (376.4,-0.66) (381.8,-0.21) (385.8,0.06) (388,0.17)};
\end{axis}
\end{tikzpicture}
\end{document}
